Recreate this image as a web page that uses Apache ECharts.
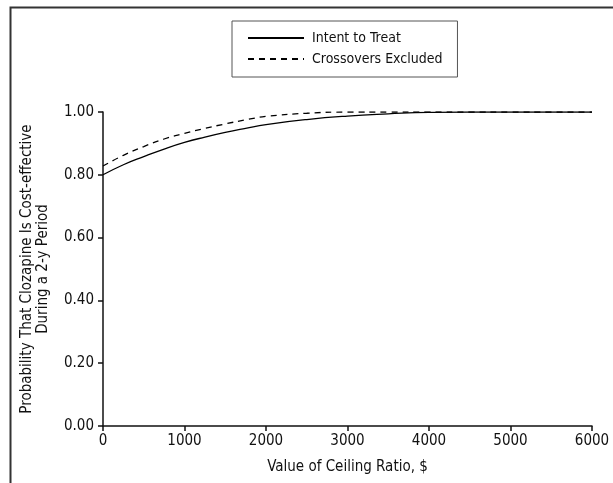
<!DOCTYPE html>
<html>
<head>
<meta charset="utf-8">
<script src="https://cdn.jsdelivr.net/npm/echarts@6/dist/echarts.min.js"></script>
<style>
html, body { margin: 0; padding: 0; background: #fff; }
#main { width: 613px; height: 483px; }
</style>
</head>
<body>
<div id="main"></div>
<script>
var myChart = echarts.init(document.getElementById('main'));

var ceiling = [0, 250, 500, 750, 1000, 1250, 1500, 1750, 2000, 2500, 3000, 3500, 4000, 4500, 5000, 5500, 6000];
var intentToTreat = [0.80, 0.832, 0.858, 0.882, 0.903, 0.920, 0.935, 0.948, 0.960, 0.976, 0.987, 0.994, 0.999, 1.0, 1.0, 1.0, 1.0];
var crossoversExcluded = [0.828, 0.862, 0.890, 0.914, 0.932, 0.948, 0.962, 0.975, 0.986, 0.996, 1.0, 1.0, 1.0, 1.0, 1.0, 1.0, 1.0];
var seriesNames = ['Intent to Treat', 'Crossovers Excluded'];

// condensed face: the keyword goes into the canvas font shorthand
var font = '"Liberation Sans Narrow", "DejaVu Sans Condensed", "DejaVu Sans", sans-serif';
var stretch = 'condensed';
var ink = '#111';

function pairs(ys) {
	return ys.map(function (y, i) { return [ceiling[i], y]; });
}

var txt = { fontFamily: font, fontWeight: stretch, fontSize: 14, color: ink };

var option = {
	backgroundColor: '#fff',
	animation: false,
	textStyle: txt,
	graphic: [{
		type: 'rect',
		shape: { x: 10.5, y: 7.5, width: 700, height: 600 },
		style: { fill: 'none', stroke: '#333', lineWidth: 2 },
		silent: true
	}],
	legend: {
		left: 232,
		top: 21,
		orient: 'vertical',
		data: seriesNames,
		itemWidth: 56,
		itemHeight: 14,
		itemGap: 7,
		padding: [10, 15, 11, 15],
		borderColor: '#555',
		borderWidth: 1,
		itemStyle: { color: 'rgba(0,0,0,0)', borderColor: 'rgba(0,0,0,0)', borderWidth: 0 },
		textStyle: Object.assign({}, txt, { fontSize: 14, padding: [0, 0, 0, 3] })
	},
	grid: {
		left: 103,
		right: 21,
		top: 112,
		bottom: 57
	},
	xAxis: {
		type: 'value',
		min: 0,
		max: 6000,
		interval: 1000,
		name: 'Value of Ceiling Ratio, $',
		nameLocation: 'middle',
		nameGap: 34,
		nameTextStyle: Object.assign({}, txt, { fontSize: 15 }),
		axisLine: { lineStyle: { color: ink, width: 1.5 } },
		axisTick: { length: 5, lineStyle: { color: ink, width: 1.5 } },
		axisLabel: Object.assign({}, txt, {
			fontSize: 15, margin: 8,
			formatter: function (v) { return String(v); }
		}),
		splitLine: { show: false }
	},
	yAxis: {
		type: 'value',
		min: 0,
		max: 1,
		interval: 0.2,
		name: 'Probability That Clozapine Is Cost-effective\nDuring a 2-y Period',
		nameLocation: 'middle',
		nameGap: 52,
		nameTextStyle: Object.assign({}, txt, { fontSize: 15, lineHeight: 16 }),
		axisLine: { show: true, lineStyle: { color: ink, width: 1.5 } },
		axisTick: { show: true, length: 5, lineStyle: { color: ink, width: 1.5 } },
		axisLabel: Object.assign({}, txt, {
			fontSize: 15, margin: 9,
			formatter: function (v) { return v.toFixed(2); }
		}),
		splitLine: { show: false }
	},
	series: [{
		name: seriesNames[0],
		type: 'line',
		smooth: true,
		symbol: 'none',
		lineStyle: { color: '#000', width: 1.3, type: 'solid' },
		itemStyle: { color: '#000' },
		data: pairs(intentToTreat)
	}, {
		name: seriesNames[1],
		type: 'line',
		smooth: true,
		symbol: 'none',
		lineStyle: { color: '#000', width: 1.3, type: [6, 5] },
		itemStyle: { color: '#000' },
		data: pairs(crossoversExcluded)
	}]
};

myChart.setOption(option);
</script>
</body>
</html>
